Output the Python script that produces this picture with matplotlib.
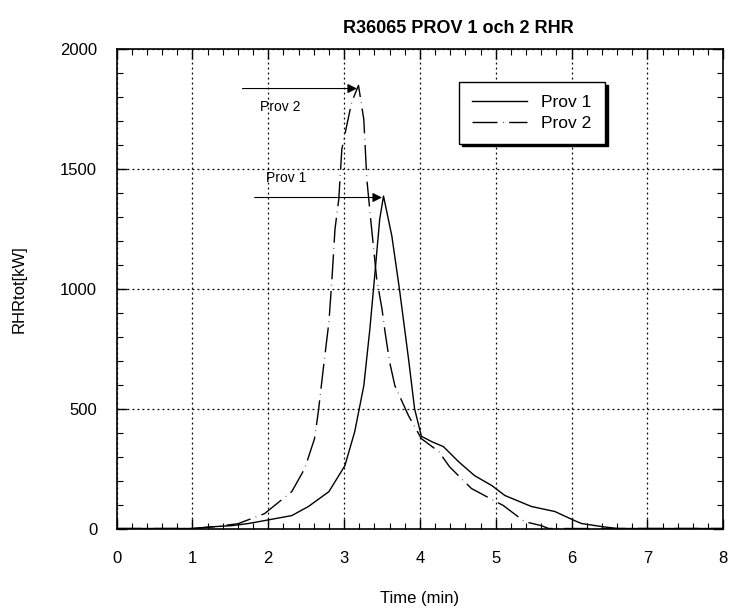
import matplotlib

matplotlib.use("Agg")
import matplotlib.pyplot as plt
from matplotlib.ticker import MultipleLocator

plt.rcParams["font.family"] = ["Liberation Sans", "DejaVu Sans"]

# values
prov1_time = [0.0, 1.0, 1.3, 1.52, 1.74, 1.95, 2.31, 2.53, 2.80, 3.01, 3.14, 3.26, 3.34,
              3.40, 3.47, 3.52, 3.63, 3.73, 3.85, 3.93, 4.02, 4.16, 4.31, 4.51, 4.72,
              4.95, 5.12, 5.47, 5.78, 6.04, 6.13, 6.4, 6.6, 8.0]
prov1_rhr = [0, 0, 8, 12, 21, 33, 54, 92, 154, 262, 404, 596, 833,
             1042, 1292, 1388, 1221, 1000, 708, 500, 385, 362, 342, 279, 221,
             179, 138, 92, 71, 33, 21, 8, 0, 0]

prov2_time = [0.0, 1.0, 1.3, 1.6, 1.95, 2.31, 2.48, 2.61, 2.66, 2.73, 2.80, 2.84, 2.88,
              2.93, 2.97, 3.03, 3.10, 3.19, 3.26, 3.30, 3.36, 3.43, 3.50, 3.54, 3.60,
              3.67, 3.85, 4.02, 4.25, 4.39, 4.68, 5.10, 5.38, 5.60, 5.70, 8.0]
prov2_rhr = [0, 0, 8, 20, 62, 154, 250, 375, 487, 679, 862, 1042, 1250,
             1375, 1583, 1675, 1780, 1850, 1708, 1458, 1262, 1042, 917, 821, 696,
             596, 471, 375, 321, 258, 167, 96, 29, 12, 0, 0]

x_ticks = [0, 1, 2, 3, 4, 5, 6, 7, 8]
y_ticks = [0, 500, 1000, 1500, 2000]

fig = plt.figure(figsize=(7.29, 6.11), dpi=100)
ax = fig.add_axes([0.160, 0.135, 0.832, 0.784])

ax.plot(prov1_time, prov1_rhr, color="black", lw=1.0, label="Prov 1")
ax.plot(prov2_time, prov2_rhr, color="black", lw=1.0,
        linestyle=(0, (18, 4, 0.4, 4)), label="Prov 2")

ax.set_xlim(0, 8)
ax.set_ylim(0, 2000)
ax.set_xticks(x_ticks)
ax.set_yticks(y_ticks)
ax.xaxis.set_minor_locator(MultipleLocator(0.2))
ax.yaxis.set_minor_locator(MultipleLocator(100))
ax.tick_params(which="both", direction="in", top=True, right=True, labelsize=12)
ax.tick_params(axis="x", pad=16)
ax.tick_params(axis="y", pad=14)
ax.tick_params(which="major", length=7, width=1)
ax.tick_params(which="minor", length=4, width=0.8)
ax.grid(True, which="major", color="black", linestyle=(0, (1.5, 2.5)), lw=0.9)
for spine in ax.spines.values():
    spine.set_linewidth(1.2)

ax.set_title("R36065 PROV 1 och 2 RHR", fontsize=13, fontweight="bold", pad=12, x=0.564)
ax.set_xlabel("Time (min)", fontsize=12, labelpad=18)
ax.set_ylabel("RHRtot[kW]", fontsize=12, labelpad=24)

arrow = dict(arrowstyle="-|>", color="black", lw=0.8, mutation_scale=14, shrinkA=0, shrinkB=0)
ax.annotate("", xy=(3.17, 1837), xytext=(1.66, 1837), arrowprops=arrow)
ax.annotate("", xy=(3.50, 1382), xytext=(1.82, 1382), arrowprops=arrow)
ax.text(1.89, 1758, "Prov 2", fontsize=10, va="center", ha="left")
ax.text(1.97, 1465, "Prov 1", fontsize=10, va="center", ha="left")

legend = ax.legend(loc="upper left", bbox_to_anchor=(0.55, 0.95), fontsize=12.5,
                   frameon=True, fancybox=False, shadow={"color": "black", "alpha": 1},
                   edgecolor="black", framealpha=1, handlelength=3.2, borderpad=0.75,
                   labelspacing=0.3)
legend.get_frame().set_linewidth(1.0)

fig.savefig("out.png", dpi=100)
